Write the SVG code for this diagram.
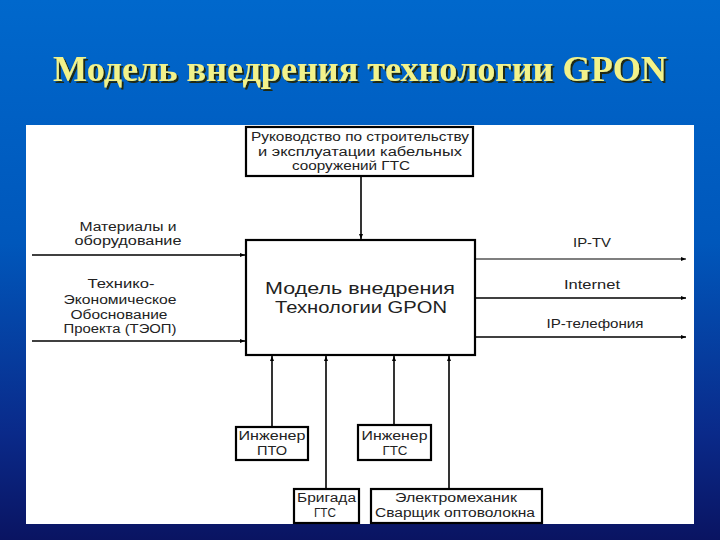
<svg xmlns="http://www.w3.org/2000/svg" width="720" height="540" viewBox="0 0 720 540">
<defs>
<linearGradient id="bg" x1="0" y1="0" x2="0" y2="1">
<stop offset="0" stop-color="#0068cc"/>
<stop offset="0.45" stop-color="#0057bb"/>
<stop offset="0.8" stop-color="#0a2a8a"/>
<stop offset="1" stop-color="#0a1462"/>
</linearGradient>
<filter id="sh" filterUnits="userSpaceOnUse" x="0" y="30" width="720" height="80">
<feDropShadow dx="2" dy="2" stdDeviation="0.6" flood-color="#202000" flood-opacity="0.9"/>
</filter>
<marker id="ar" markerWidth="6" markerHeight="6" refX="5" refY="3" orient="auto" markerUnits="userSpaceOnUse">
<path d="M0,1 L5,3 L0,5 z" fill="#000"/>
</marker>
<style>
.box{fill:#fff;stroke:#000;stroke-width:2.2}
.ln{stroke:#000;stroke-width:1.6;fill:none}
.ln2{stroke:#555;stroke-width:1.4;fill:none}
.t{font-family:"Liberation Sans","Open Sans",sans-serif;font-size:12px;fill:#222;text-anchor:middle}
.tm{font-family:"Liberation Sans","Open Sans",sans-serif;font-size:16.5px;fill:#222;text-anchor:middle}
.title{font-family:"Liberation Serif","Times New Roman",serif;font-weight:bold;font-size:36px;text-anchor:middle;fill:#f2f28a}
</style>
</defs>
<rect x="0" y="0" width="720" height="540" fill="url(#bg)"/>
<text class="title" x="360" y="81" filter="url(#sh)" textLength="614" lengthAdjust="spacingAndGlyphs">Модель внедрения технологии GPON</text>
<rect x="26" y="125" width="668" height="399" fill="#fff"/>

<g id="connectors">
<line class="ln" x1="361" y1="176" x2="361" y2="239" marker-end="url(#ar)"/>
<line class="ln" x1="32" y1="255" x2="245" y2="255" marker-end="url(#ar)"/>
<line class="ln" x1="32" y1="341" x2="245" y2="341" marker-end="url(#ar)"/>
<line class="ln2" x1="476" y1="259" x2="686" y2="259" marker-end="url(#ar)"/>
<line class="ln" x1="476" y1="298" x2="686" y2="298" marker-end="url(#ar)"/>
<line class="ln" x1="476" y1="337" x2="686" y2="337" marker-end="url(#ar)"/>
<line class="ln" x1="272" y1="426" x2="272" y2="356" marker-end="url(#ar)"/>
<line class="ln" x1="326" y1="489" x2="326" y2="356" marker-end="url(#ar)"/>
<line class="ln" x1="394" y1="425" x2="394" y2="356" marker-end="url(#ar)"/>
<line class="ln" x1="449" y1="489" x2="449" y2="356" marker-end="url(#ar)"/>
</g>

<g id="labels">
<text class="t" x="128" y="231" textLength="97" lengthAdjust="spacingAndGlyphs">Материалы и</text>
<text class="t" x="128" y="245" textLength="107" lengthAdjust="spacingAndGlyphs">оборудование</text>
<text class="t" x="121" y="288" textLength="67" lengthAdjust="spacingAndGlyphs">Технико-</text>
<text class="t" x="120" y="304" textLength="113" lengthAdjust="spacingAndGlyphs">Экономическое</text>
<text class="t" x="119" y="319" textLength="97" lengthAdjust="spacingAndGlyphs">Обоснование</text>
<text class="t" x="120" y="333" textLength="113" lengthAdjust="spacingAndGlyphs">Проекта (ТЭОП)</text>
<text class="t" x="592" y="247" textLength="38" lengthAdjust="spacingAndGlyphs">IP-TV</text>
<text class="t" x="592" y="289" textLength="56" lengthAdjust="spacingAndGlyphs">Internet</text>
<text class="t" x="595" y="328" textLength="97" lengthAdjust="spacingAndGlyphs">IP-телефония</text>
</g>

<g id="node-top">
<rect class="box" x="246" y="127" width="227" height="49"/>
<text class="t" x="360" y="141" textLength="218" lengthAdjust="spacingAndGlyphs">Руководство по строительству</text>
<text class="t" x="360" y="156" textLength="204" lengthAdjust="spacingAndGlyphs">и эксплуатации кабельных</text>
<text class="t" x="351" y="170" textLength="118" lengthAdjust="spacingAndGlyphs">сооружений ГТС</text>
</g>

<g id="node-main">
<rect class="box" x="246" y="240" width="229" height="115"/>
<text class="tm" x="360" y="294" textLength="190" lengthAdjust="spacingAndGlyphs">Модель внедрения</text>
<text class="tm" x="361" y="313" textLength="172" lengthAdjust="spacingAndGlyphs">Технологии GPON</text>
</g>

<g id="node-pto">
<rect class="box" x="236" y="427" width="72" height="33"/>
<text class="t" x="272" y="440" textLength="67" lengthAdjust="spacingAndGlyphs">Инженер</text>
<text class="t" x="272" y="455" textLength="30" lengthAdjust="spacingAndGlyphs">ПТО</text>
</g>

<g id="node-gts-eng">
<rect class="box" x="358" y="425" width="73" height="35"/>
<text class="t" x="394.5" y="440" textLength="66" lengthAdjust="spacingAndGlyphs">Инженер</text>
<text class="t" x="395" y="455" textLength="25" lengthAdjust="spacingAndGlyphs">ГТС</text>
</g>

<g id="node-brigada">
<rect class="box" x="294" y="489" width="65" height="34"/>
<text class="t" x="326.5" y="502" textLength="59" lengthAdjust="spacingAndGlyphs">Бригада</text>
<text class="t" x="325" y="517" textLength="22" lengthAdjust="spacingAndGlyphs">ГТС</text>
</g>

<g id="node-electro">
<rect class="box" x="371" y="489" width="171" height="34"/>
<text class="t" x="456" y="502" textLength="122" lengthAdjust="spacingAndGlyphs">Электромеханик</text>
<text class="t" x="455" y="517" textLength="160" lengthAdjust="spacingAndGlyphs">Сварщик оптоволокна</text>
</g>
</svg>
